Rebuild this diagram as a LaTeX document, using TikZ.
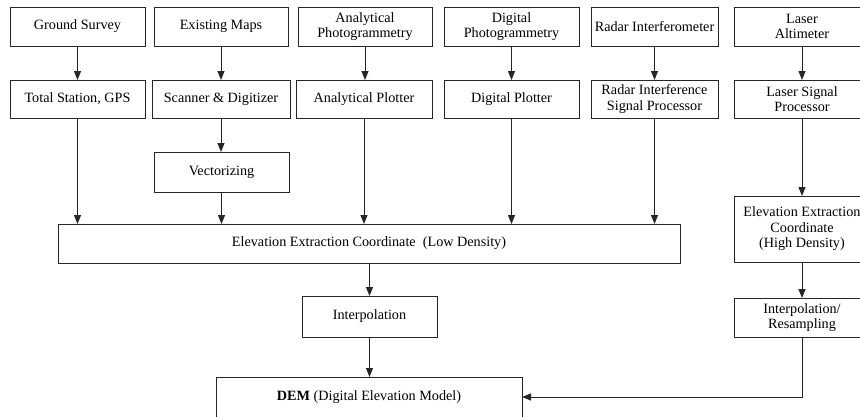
\documentclass[tikz,border=0pt]{standalone}
\usepackage{fontspec}
\setmainfont{Liberation Serif}
\usetikzlibrary{arrows.meta}
\begin{document}
\begin{tikzpicture}[x=1pt,y=-1pt,
  box/.style={draw=black!85, line width=0.9pt, align=center, inner sep=1pt, outer sep=0pt,
    font=\fontsize{14.2}{15.5}\selectfont},
  arr/.style={draw=black!85, line width=0.9pt, -{Triangle[length=9pt,width=7pt]}}]
\useasboundingbox (0,0) rectangle (860,416);
\clip (0,0) rectangle (860,416);
% top row
\node[box, minimum width=135pt, minimum height=39pt] (gs) at (77.5,26.5) {Ground Survey};
\node[box, minimum width=134pt, minimum height=39pt] (em) at (221,26.5) {Existing Maps};
\node[box, minimum width=134pt, minimum height=39pt] (ap) at (365,26.5) {Analytical\\Photogrammetry};
\node[box, minimum width=135pt, minimum height=39pt] (dp) at (511.5,26.5) {Digital\\Photogrammetry};
\node[box, minimum width=127pt, minimum height=39pt] (ri) at (654.5,26.5) {Radar Interferometer};
\node[box, minimum width=136pt, minimum height=39pt] (la) at (802,26.5) {Laser\\Altimeter};
% second row
\node[box, minimum width=135pt, minimum height=38pt] (ts) at (77.5,99) {Total Station, GPS};
\node[box, minimum width=138pt, minimum height=38pt] (sd) at (221,99) {Scanner \& Digitizer};
\node[box, minimum width=136pt, minimum height=38pt] (apl) at (364,99) {Analytical Plotter};
\node[box, minimum width=135pt, minimum height=38pt] (dpl) at (511.5,99) {Digital Plotter};
\node[box, minimum width=127pt, minimum height=38pt] (rsp) at (654.5,99) {Radar Interference\\Signal Processor};
\node[box, minimum width=136pt, minimum height=38pt] (lsp) at (802,99) {Laser Signal\\Processor};
% others
\node[box, minimum width=135pt, minimum height=40pt] (vec) at (221.5,172) {Vectorizing};
\node[box, minimum width=622pt, minimum height=39pt] (low) at (369,243.5) {Elevation Extraction Coordinate~ (Low Density)};
\node[box, minimum width=136pt, minimum height=66pt] (hi) at (802,229) {Elevation Extraction\\Coordinate\\(High Density)};
\node[box, minimum width=135pt, minimum height=41pt] (interp) at (369.5,316.5) {Interpolation};
\node[box, minimum width=136pt, minimum height=39pt] (ir) at (802,317.5) {Interpolation/\\Resampling};
\node[box, minimum width=306pt, minimum height=40pt] (dem) at (369,397) {\textbf{DEM} (Digital Elevation Model)};
% arrows
\draw[arr] (gs) -- (ts);
\draw[arr] (em) -- (sd);
\draw[arr] (ap.south) -- (ap.south |- apl.north);
\draw[arr] (dp) -- (dpl);
\draw[arr] (ri) -- (rsp);
\draw[arr] (la) -- (lsp);
\draw[arr] (sd.south) -- (sd.south |- vec.north);
\draw[arr] (ts.south) -- (ts.south |- low.north);
\draw[arr] (vec.south) -- (vec.south |- low.north);
\draw[arr] (apl.south) -- (apl.south |- low.north);
\draw[arr] (dpl.south) -- (dpl.south |- low.north);
\draw[arr] (rsp.south) -- (rsp.south |- low.north);
\draw[arr] (lsp) -- (hi);
\draw[arr] (hi) -- (ir);
\draw[arr] (low.south -| interp.north) -- (interp.north);
\draw[arr] (interp.south) -- (interp.south |- dem.north);
\draw[arr] (ir.south) |- (dem.east);
\end{tikzpicture}
\end{document}
